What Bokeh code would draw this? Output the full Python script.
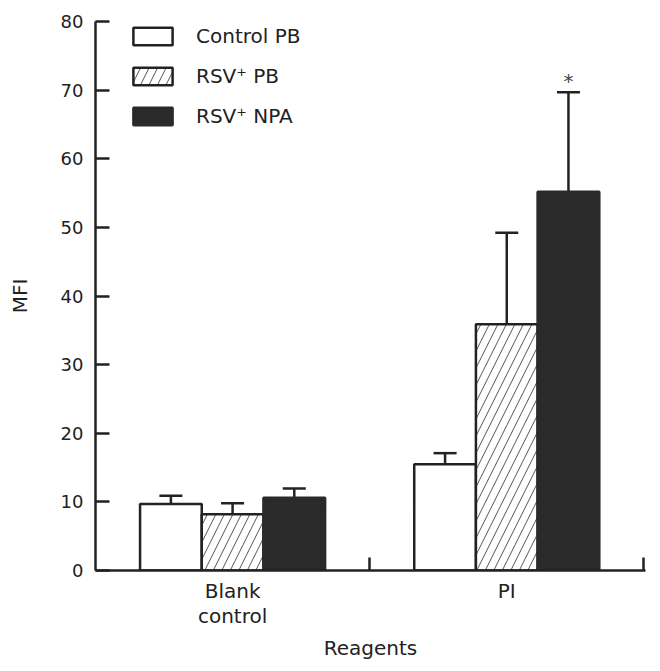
from bokeh.plotting import figure
from bokeh.models import (ColumnDataSource, FixedTicker, Whisker, TeeHead, Legend, LegendItem, Range1d)
from bokeh.embed import file_html
from bokeh.resources import INLINE
from bokeh.core.properties import value

groups = ["Blank\ncontrol", "PI"]
series = ["Control PB", "RSV\u207a PB", "RSV\u207a NPA"]
means = {
    "Control PB": [9.7, 15.5],
    "RSV\u207a PB": [8.2, 35.9],
    "RSV\u207a NPA": [10.6, 55.2],
}
upper = {
    "Control PB": [10.9, 17.1],
    "RSV\u207a PB": [9.8, 49.2],
    "RSV\u207a NPA": [11.95, 69.7],
}
y_ticks = [0, 10, 20, 30, 40, 50, 60, 70, 80]
star_label = "*"

FONT = "DejaVu Sans"
INK = "#222222"
DARK = "#2a2a2a"

p = figure(width=660, height=671, output_backend="svg", toolbar_location=None,
           x_range=Range1d(0, 2.006), y_range=Range1d(0, 80),
           min_border_left=95, min_border_top=21, min_border_bottom=101, min_border_right=15)
p.outline_line_color = None
p.grid.visible = False
p.background_fill_color = "white"

bar_w = 0.225
offsets = [-bar_w, 0.0, bar_w]
styles = [
    dict(fill_color="white"),
    dict(fill_color="white", hatch_pattern="/", hatch_scale=17, hatch_weight=1, hatch_color="#555555"),
    dict(fill_color=DARK),
]

renderers = []
for s, off, st in zip(series, offsets, styles):
    xs = [i + 0.5 + off for i in range(len(groups))]
    src = ColumnDataSource(dict(x=xs, top=means[s], up=upper[s]))
    r = p.vbar(x="x", top="top", width=bar_w, bottom=0, source=src,
               line_color=INK if s != series[2] else DARK, line_width=2.5, **st)
    renderers.append(r)
    w = Whisker(base="x", lower="top", upper="up", source=src, dimension="height",
                line_color=INK, line_width=2.5,
                upper_head=TeeHead(size=23, line_color=INK, line_width=2.5),
                lower_head=None)
    p.add_layout(w)

# asterisk above last bar
p.text(x=[1 + 0.5 + offsets[2]], y=[upper[series[2]][1] - 0.1], text=[star_label],
       text_font=value(FONT), text_font_size="20px", text_color="#444444",
       text_align="center", text_baseline="bottom")

legend = Legend(items=[LegendItem(label=s, renderers=[r]) for s, r in zip(series, renderers)],
                location=(33, 442), glyph_width=49, glyph_height=22, spacing=16,
                label_standoff=19, padding=0, margin=0, border_line_color=None,
                background_fill_alpha=0, label_text_font=FONT, label_text_font_size="20px",
                label_text_color=INK, label_height=22)
p.add_layout(legend)

# axes
xa = p.xaxis[0]
xa.ticker = FixedTicker(ticks=[0.5, 1.5], minor_ticks=[1, 2])
xa.major_label_overrides = {0.5: groups[0], 1.5: groups[1]}
xa.major_tick_in = 0
xa.major_tick_out = 0
xa.minor_tick_in = 13
xa.minor_tick_out = 0
xa.minor_tick_line_color = INK
xa.minor_tick_line_width = 2.5
xa.axis_line_color = INK
xa.axis_line_width = 2.5
xa.major_label_text_font = FONT
xa.major_label_text_font_size = "20px"
xa.major_label_text_color = INK
xa.major_label_text_line_height = 1.05
xa.major_label_standoff = 8
xa.axis_label = "Reagents"
xa.axis_label_text_font = FONT
xa.axis_label_text_font_size = "20px"
xa.axis_label_text_font_style = "normal"
xa.axis_label_text_color = INK
xa.axis_label_standoff = 5

ya = p.yaxis[0]
ya.ticker = FixedTicker(ticks=y_ticks, minor_ticks=[])
ya.major_tick_in = 14
ya.major_tick_out = 0
ya.major_tick_line_color = INK
ya.major_tick_line_width = 2.5
ya.axis_line_color = INK
ya.axis_line_width = 2.5
ya.major_label_text_font = FONT
ya.major_label_text_font_size = "18px"
ya.major_label_text_color = INK
ya.major_label_standoff = 12
ya.axis_label = "MFI"
ya.axis_label_text_font = FONT
ya.axis_label_text_font_size = "20px"
ya.axis_label_text_font_style = "normal"
ya.axis_label_text_color = INK
ya.axis_label_standoff = 26

open("out.html", "w").write(file_html(p, INLINE))
